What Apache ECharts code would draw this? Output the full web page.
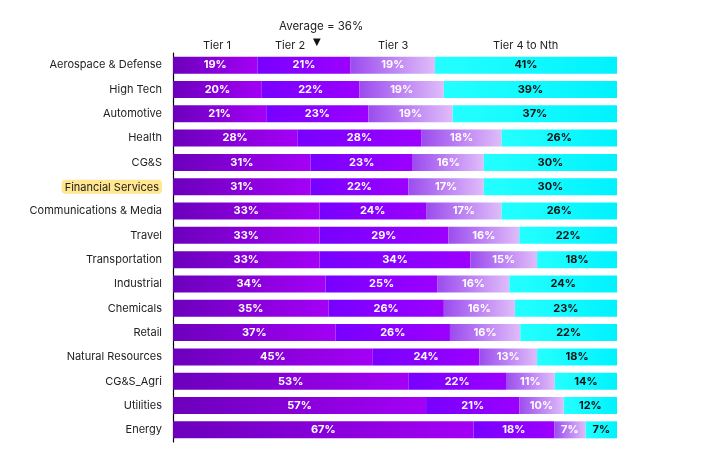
<!DOCTYPE html>
<html><head><meta charset="utf-8">
<script src="https://cdn.jsdelivr.net/npm/echarts@6/dist/echarts.min.js"></script>
<style>html,body{margin:0;padding:0;background:#fff}#c{width:712px;height:461px}</style>
</head><body><div id="c"></div>
<script>
const categories = ["Aerospace & Defense","High Tech","Automotive","Health","CG&S","Financial Services","Communications & Media","Travel","Transportation","Industrial","Chemicals","Retail","Natural Resources","CG&S_Agri","Utilities","Energy"];
const tier1 = [19,20,21,28,31,31,33,33,33,34,35,37,45,53,57,67];
const tier2 = [21,22,23,28,23,22,24,29,34,25,26,26,24,22,21,18];
const tier3 = [19,19,19,18,16,17,17,16,15,16,16,16,13,11,10,7];
const tier4 = [41,39,37,26,30,30,26,22,18,24,23,22,18,14,12,7];
const seriesNames = ["Tier 1","Tier 2","Tier 3","Tier 4 to Nth"];
const averageLabel = "Average = 36%";
const averageLinePos = 32.7;
const highlighted = "Financial Services";

const chart = echarts.init(document.getElementById('c'));
const lg = (a,b)=>new echarts.graphic.LinearGradient(0,0,1,0,[{offset:0,color:a},{offset:1,color:b}]);
const colors = [lg('#6c00bc','#a400f6'), lg('#7800ff','#9c00ff'), lg('#9c4cef','#dfbcf9'), lg('#24ffff','#00f2ff')];
const labelColors = ['#fff','#fff','#fff','#111'];
const data = [tier1,tier2,tier3,tier4];
const rowSums = categories.map((_,r)=>data.reduce((s,d)=>s+d[r],0));
const FONT = 'Inter, Roboto, sans-serif';

const series = data.map((d,i)=>({
  name: seriesNames[i], type:'bar', stack:'t', barWidth:17,
  data: d.map((v,r)=>({value: v*100/rowSums[r], raw: v})), z: 3,
  itemStyle:{color:colors[i]},
  label:{show:true, position:'inside', formatter:p=>p.data.raw+'%', color:labelColors[i], fontSize:11, fontWeight:'bold', fontFamily:FONT}
}));
series.push({
  type:'line', data:[], z:1,
  markLine:{silent:true, symbol:'none', label:{show:false},
    lineStyle:{type:[3,4], color:'#555', width:1.3},
    data:[[{coord:[averageLinePos, -0.6]},{coord:[averageLinePos, 15.7]}]]}
});

chart.setOption({
  animation:false,
  grid:{left:173, right:95, top:53, bottom:19},
  xAxis:{type:'value', min:0, max:100, show:false},
  yAxis:{type:'category', data:categories, inverse:true,
    axisLine:{show:true, lineStyle:{color:'#000', width:1.2}},
    axisTick:{show:false},
    axisLabel:{fontSize:11, color:'#222', fontFamily:FONT, margin:11,
      formatter:v=> v===highlighted ? '{h|'+v+'}' : v,
      rich:{h:{backgroundColor:'#ffe68f', borderRadius:4, padding:[2,3,1,3], fontSize:11, color:'#222', fontFamily:FONT}}}
  },
  series: series,
  graphic:[
    {type:'text', left:279, top:21, style:{text:averageLabel, font:'11.5px '+FONT, fill:'#222'}},
    {type:'text', left:318-5, top:37, style:{text:'▼', font:'10px DejaVu Sans', fill:'#111'}},
    {type:'text', left:203, top:40, style:{text:seriesNames[0], font:'11px '+FONT, fill:'#222'}},
    {type:'text', left:275, top:40, style:{text:seriesNames[1], font:'11px '+FONT, fill:'#222'}},
    {type:'text', left:378, top:40, style:{text:seriesNames[2], font:'11px '+FONT, fill:'#222'}},
    {type:'text', left:493, top:40, style:{text:seriesNames[3], font:'11px '+FONT, fill:'#222'}}
  ]
});
</script></body></html>
